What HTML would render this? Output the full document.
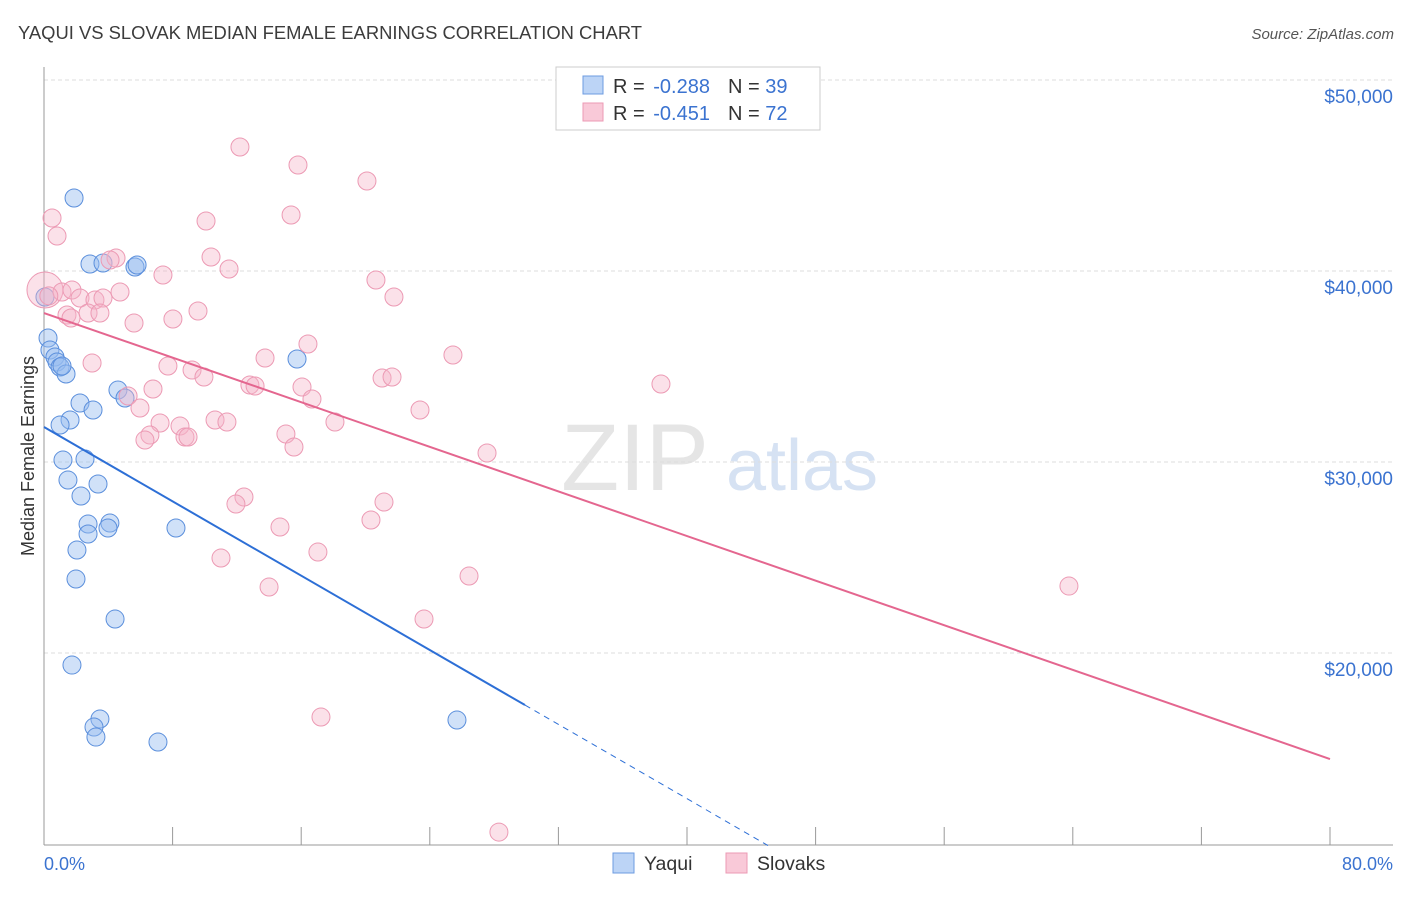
<!DOCTYPE html>
<html><head><meta charset="utf-8"><style>
body{margin:0;background:#fff;font-family:"Liberation Sans",sans-serif}
svg text{font-family:"Liberation Sans",sans-serif}
</style></head><body>
<svg id="chart" width="1406" height="892" xmlns="http://www.w3.org/2000/svg">
<text x="18" y="39" font-size="18.4" fill="#3c3c3c">YAQUI VS SLOVAK MEDIAN FEMALE EARNINGS CORRELATION CHART</text>
<text x="1394" y="39" font-size="15" fill="#555" text-anchor="end" font-style="italic">Source: ZipAtlas.com</text>
<g>
<text x="635" y="490" font-size="95" fill="#e5e5e5" text-anchor="middle" font-family="Liberation Serif">ZIP</text>
<text x="802" y="490" font-size="72" fill="#d6e2f3" text-anchor="middle">atlas</text>
</g>
<g id="grid"></g>
<g id="axes"></g>
<g id="marks"></g>
<text transform="translate(34,456) rotate(-90)" font-size="18" fill="#333" text-anchor="middle">Median Female Earnings</text>
<text x="44" y="870" font-size="18" fill="#3b73d0">0.0%</text>
<text x="1393" y="870" font-size="18" fill="#3b73d0" text-anchor="end">80.0%</text>
<g>
<rect x="556" y="67" width="264" height="63" fill="#fff" stroke="#ccc"/>
<rect x="583" y="76" width="20" height="18" fill="#bcd4f6" stroke="#6d9be0"/>
<rect x="583" y="103" width="20" height="18" fill="#f9c9d8" stroke="#ec9ab4"/>
<text x="613" y="93" font-size="20" fill="#333">R = <tspan dx="3" fill="#3b73d0">-0.288</tspan><tspan dx="18">N = </tspan><tspan fill="#3b73d0">39</tspan></text>
<text x="613" y="120" font-size="20" fill="#333">R = <tspan dx="3" fill="#3b73d0">-0.451</tspan><tspan dx="18">N = </tspan><tspan fill="#3b73d0">72</tspan></text>
</g>
<g>
<rect x="613" y="853" width="21" height="20" fill="#bcd4f6" stroke="#6d9be0"/>
<text x="644" y="870" font-size="19.5" fill="#333">Yaqui</text>
<rect x="726" y="853" width="21" height="20" fill="#f9c9d8" stroke="#ec9ab4"/>
<text x="757" y="870" font-size="19.5" fill="#333">Slovaks</text>
</g>
</svg>
<script>
const yTicks=[20000,30000,40000,50000];
const yTickLabels=["$20,000","$30,000","$40,000","$50,000"];
const xTicks=[0,8,16,24,32,40,48,56,64,72,80];
const yaquiX=[1.87,2.86,3.67,5.66,5.79,0.06,0.25,0.37,0.68,0.81,1.0,1.37,15.74,4.6,5.04,2.24,3.05,1.62,1.0,1.18,2.55,1.49,3.36,2.3,2.74,2.74,4.1,3.98,8.21,2.05,1.99,4.42,1.74,3.48,3.11,3.23,7.09,25.69,1.12];
const yaquiY=[43822,40366,40418,40209,40313,38638,36491,35863,35496,35234,34973,34606,35392,33768,33350,33088,32721,32198,31936,30103,30155,29056,28847,28218,26752,26229,26804,26543,26543,25391,23872,21778,19369,16542,16123,15599,15338,16490,35025];
const slovakX=[0.5,0.81,12.19,15.8,20.09,15.37,10.08,10.39,11.51,7.4,4.48,4.11,20.65,21.77,0.06,1.12,1.74,2.24,3.17,3.67,4.73,1.43,1.68,2.74,3.48,5.6,8.02,9.58,2.99,7.71,9.21,9.95,13.75,16.42,25.44,38.38,21.03,21.65,12.81,13.13,16.05,16.67,6.78,5.23,5.97,23.39,7.22,8.46,10.64,11.38,18.1,6.59,6.28,8.77,8.96,15.05,15.55,27.56,12.44,11.94,21.15,20.34,14.68,17.04,11.01,26.44,14.0,63.76,23.64,17.23,28.3,0.3];
const slovakY=[42774,41832,46492,45549,44712,42931,42617,40732,40104,39790,40680,40575,39528,38638,39004,38900,39004,38586,38481,38586,38900,37695,37538,37800,37800,37277,37486,37905,35182,35025,34816,34449,35444,36177,35601,34083,34397,34450,34030,33978,33925,33297,33821,33454,32826,32721,32041,31883,32198,32093,32093,31412,31150,31307,31307,31465,30784,30470,28166,27799,27904,26962,26595,25286,24972,24029,23453,23505,21778,16647,10625,38700];
const slovakR=[9,9,9,9,9,9,9,9,9,9,9,9,9,9,18,9,9,9,9,9,9,9,9,9,9,9,9,9,9,9,9,9,9,9,9,9,9,9,9,9,9,9,9,9,9,9,9,9,9,9,9,9,9,9,9,9,9,9,9,9,9,9,9,9,9,9,9,9,9,9,9,9];
const yaquiTrend=[31832,-486.5];
const slovakTrend=[37800,-291.9];
const NS="http://www.w3.org/2000/svg";
const xs=v=>44+v*16.075;
const ys=v=>80+(50000-v)/10000*191;
function mk(tag,attrs,parent){const e=document.createElementNS(NS,tag);for(const k in attrs)e.setAttribute(k,attrs[k]);parent.appendChild(e);return e;}
const grid=document.getElementById('grid'),axes=document.getElementById('axes'),marks=document.getElementById('marks');
yTicks.forEach((t,i)=>{
 const l=mk('line',{x1:44,x2:1393,y1:ys(t),y2:ys(t),stroke:'#ddd','stroke-dasharray':'4,3'},grid);
 
 
 const tx=mk('text',{x:1393,y:ys(t)+23,'font-size':19,fill:'#3b73d0','text-anchor':'end'},grid);
 tx.textContent=yTickLabels[i];
 
 
});
const ya=mk('line',{x1:44,x2:44,y1:67,y2:845,stroke:'#999'},axes);


const xa=mk('line',{x1:44,x2:1393,y1:845,y2:845,stroke:'#999'},axes);


xTicks.forEach(t=>{
 const l=mk('line',{x1:xs(t),x2:xs(t),y1:827,y2:845,stroke:'#999'},axes);
 
 
});
yaquiX.forEach((v,i)=>{
 const c=mk('circle',{cx:xs(v),cy:ys(yaquiY[i]),r:9,fill:'rgba(150,188,240,0.45)',stroke:'#5b8fdc','stroke-width':1},marks);
 
 
});
slovakX.forEach((v,i)=>{
 const c=mk('circle',{cx:xs(v),cy:ys(slovakY[i]),r:slovakR[i],fill:'rgba(246,180,200,0.4)',stroke:'#ec9ab4','stroke-width':1},marks);
 
 
});
const yt=v=>yaquiTrend[0]+yaquiTrend[1]*v;
const st=v=>slovakTrend[0]+slovakTrend[1]*v;
const l1=mk('line',{x1:xs(0),y1:ys(yt(0)),x2:xs(29.92),y2:ys(yt(29.92)),stroke:'#2d6fd6','stroke-width':2},marks);


const l2=mk('line',{x1:xs(29.92),y1:ys(yt(29.92)),x2:xs(45.04),y2:ys(yt(45.04)),stroke:'#2d6fd6','stroke-width':1,'stroke-dasharray':'6,5'},marks);


const l3=mk('line',{x1:xs(0),y1:ys(st(0)),x2:xs(80),y2:ys(st(80)),stroke:'#e4668f','stroke-width':2},marks);


</script>
</body></html>
